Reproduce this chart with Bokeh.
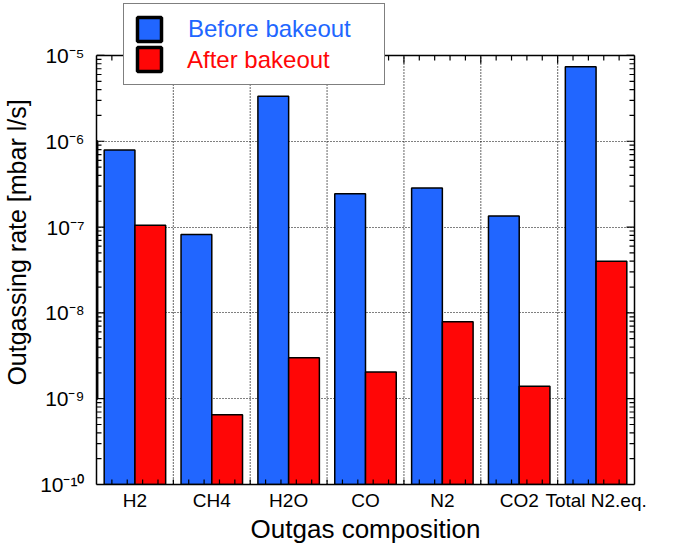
import math
from bokeh.plotting import figure
from bokeh.models import (Legend, LegendItem, FixedTicker, LogAxis, Span,
                          Range1d, ColumnDataSource)
from bokeh.transform import dodge
from bokeh.embed import file_html
from bokeh.resources import INLINE

categories = ["H2", "CH4", "H2O", "CO", "N2", "CO2", "Total N2.eq."]
before = [7.9e-7, 8.2e-8, 3.35e-6, 2.45e-7, 2.85e-7, 1.35e-7, 7.4e-6]
after = [1.05e-7, 6.5e-10, 3.0e-9, 2.05e-9, 7.9e-9, 1.4e-9, 4.0e-8]
decade_labels = ["10\u207b\u00b9\u2070", "10\u207b\u2079", "10\u207b\u2078",
                 "10\u207b\u2077", "10\u207b\u2076", "10\u207b\u2075"]

BLUE = "#2166ff"
RED = "#ff0606"
FONT = "Liberation Sans"

n = len(categories)
YMIN, YMAX = 1e-10, 1e-5          # axis box limits
YTOP = 4.37e-5                     # frame extends above box to hold legend
DPX = 85.8                         # approx pixels per decade (for tick length)

centers = [i + 0.5 for i in range(n)]
bounds = [float(i) for i in range(1, n)]
xminor = [round(0.2 * k, 3) for k in range(1, 5 * n)]
decades = [10.0 ** e for e in range(-10, -4)]
yminor = [m * 10.0 ** e for e in range(-10, -5) for m in range(2, 10)]

src = ColumnDataSource(dict(x=centers, before=before, after=after,
                            base=[YMIN] * n))

p = figure(width=659, height=546, x_range=Range1d(0, n),
           y_range=Range1d(YMIN, YTOP), y_axis_type="log",
           output_backend="svg", toolbar_location=None,
           min_border_left=89, min_border_right=25, min_border_top=0,
           min_border_bottom=10)
p.outline_line_color = None

# horizontal grid (decades), vertical grid as dotted segments inside the box
p.xgrid.visible = False
p.ygrid.ticker = FixedTicker(ticks=decades)
p.ygrid.grid_line_color = "black"
p.ygrid.grid_line_dash = "1 2"
p.ygrid.grid_line_width = 1.2
p.segment(x0=bounds, x1=bounds, y0=[YMIN] * len(bounds),
          y1=[YMAX] * len(bounds), line_color="black", line_dash="1 2",
          line_width=1.2)

rb = p.vbar(x=dodge("x", -0.2, range=p.x_range), top="before", bottom="base",
            width=0.4, source=src, fill_color=BLUE, line_color="black",
            line_width=1.5)
rr = p.vbar(x=dodge("x", 0.2, range=p.x_range), top="after", bottom="base",
            width=0.4, source=src, fill_color=RED, line_color="black",
            line_width=1.5)

# top edge of the box
p.add_layout(Span(location=YMAX, dimension="width", line_color="black",
                  line_width=1.5))

# inward tick marks (frame-clipped dashes on left/right/bottom edges)
p.scatter(x=[0] * len(decades), y=decades, marker="dash", size=16,
          line_color="black", line_width=1.2)
p.scatter(x=[0] * len(yminor), y=yminor, marker="dash", size=10,
          line_color="black", line_width=1.2)
p.scatter(x=[n] * len(decades), y=decades, marker="dash", size=16,
          line_color="black", line_width=1.2)
p.scatter(x=[n] * len(yminor), y=yminor, marker="dash", size=10,
          line_color="black", line_width=1.2)
p.scatter(x=xminor, y=[YMIN] * len(xminor), marker="dash", size=10,
          angle=math.pi / 2, line_color="black", line_width=1.2)
# top ticks hanging down from the box edge
f_minor = 10 ** (-5 / DPX)
f_major = 10 ** (-8 / DPX)
p.segment(x0=xminor, x1=xminor, y0=[YMAX] * len(xminor),
          y1=[YMAX * (f_major if x in bounds else f_minor) for x in xminor],
          line_color="black", line_width=1.2)

# axes
xa = p.xaxis[0]
xa.ticker = FixedTicker(ticks=centers)
xa.major_label_overrides = {c: name for c, name in zip(centers, categories)}
xa.major_tick_in = 0
xa.major_tick_out = 0
xa.minor_tick_in = 0
xa.minor_tick_out = 0
xa.major_label_standoff = 5
xa.major_label_text_font = FONT
xa.major_label_text_font_size = "19px"
xa.major_label_text_color = "black"
xa.axis_label = "Outgas composition"
xa.axis_label_text_font = FONT
xa.axis_label_text_font_size = "26px"
xa.axis_label_text_font_style = "normal"
xa.axis_label_text_color = "black"
xa.axis_label_standoff = 0
xa.axis_line_width = 1.5

ya = p.yaxis[0]
ya.ticker = FixedTicker(ticks=decades)
ya.bounds = (YMIN, YMAX)
ya.major_label_overrides = {d: lab for d, lab in zip(decades, decade_labels)}
ya.major_tick_in = 0
ya.major_tick_out = 0
ya.minor_tick_in = 0
ya.minor_tick_out = 0
ya.major_label_standoff = 12
ya.major_label_text_font = FONT
ya.major_label_text_font_size = "21px"
ya.major_label_text_color = "black"
ya.axis_label = "Outgassing rate [mbar l/s]"
ya.axis_label_text_font = FONT
ya.axis_label_text_font_size = "25px"
ya.axis_label_text_font_style = "normal"
ya.axis_label_text_color = "black"
ya.axis_label_standoff = 6
ya.axis_line_width = 1.5

right_ax = LogAxis(ticker=FixedTicker(ticks=decades), bounds=(YMIN, YMAX),
                   major_label_text_color=None, major_tick_in=0,
                   major_tick_out=0, minor_tick_in=0, minor_tick_out=0,
                   axis_line_width=1.5, axis_line_color="black")
p.add_layout(right_ax, "right")

# legend swatch renderers: one point each, placed outside the visible x range
lb = p.vbar(x=[-5], top=[1e-6], bottom=[1e-9], width=0.4, fill_color=BLUE,
            line_color="black", line_width=3.5)
lr = p.vbar(x=[-5], top=[1e-6], bottom=[1e-9], width=0.4, fill_color=RED,
            line_color="black", line_width=3.5)
lt = p.vbar(x=[-5], top=[1e-6], bottom=[1e-9], width=0.4, fill_alpha=0,
            line_alpha=0)

leg1 = Legend(items=[LegendItem(label="Before bakeout", renderers=[lb]),
                     LegendItem(label=" ", renderers=[lr])],
              location=(27, 399), padding=10, spacing=0,
              glyph_width=30, glyph_height=30, label_height=30,
              label_width=186, label_standoff=24,
              label_text_font=FONT, label_text_font_size="24px",
              label_text_color=BLUE, border_line_color="black",
              border_line_width=1.5, background_fill_color="white",
              background_fill_alpha=1.0)
leg2 = Legend(items=[LegendItem(label="After bakeout", renderers=[lt])],
              location=(37, 409), padding=0, spacing=0,
              glyph_width=30, glyph_height=30, label_height=30,
              label_width=186, label_standoff=24,
              label_text_font=FONT, label_text_font_size="24px",
              label_text_color=RED, border_line_color=None,
              background_fill_alpha=0.0)
p.add_layout(leg1, "center")
p.add_layout(leg2, "center")

open("out.html", "w").write(file_html(p, INLINE))
